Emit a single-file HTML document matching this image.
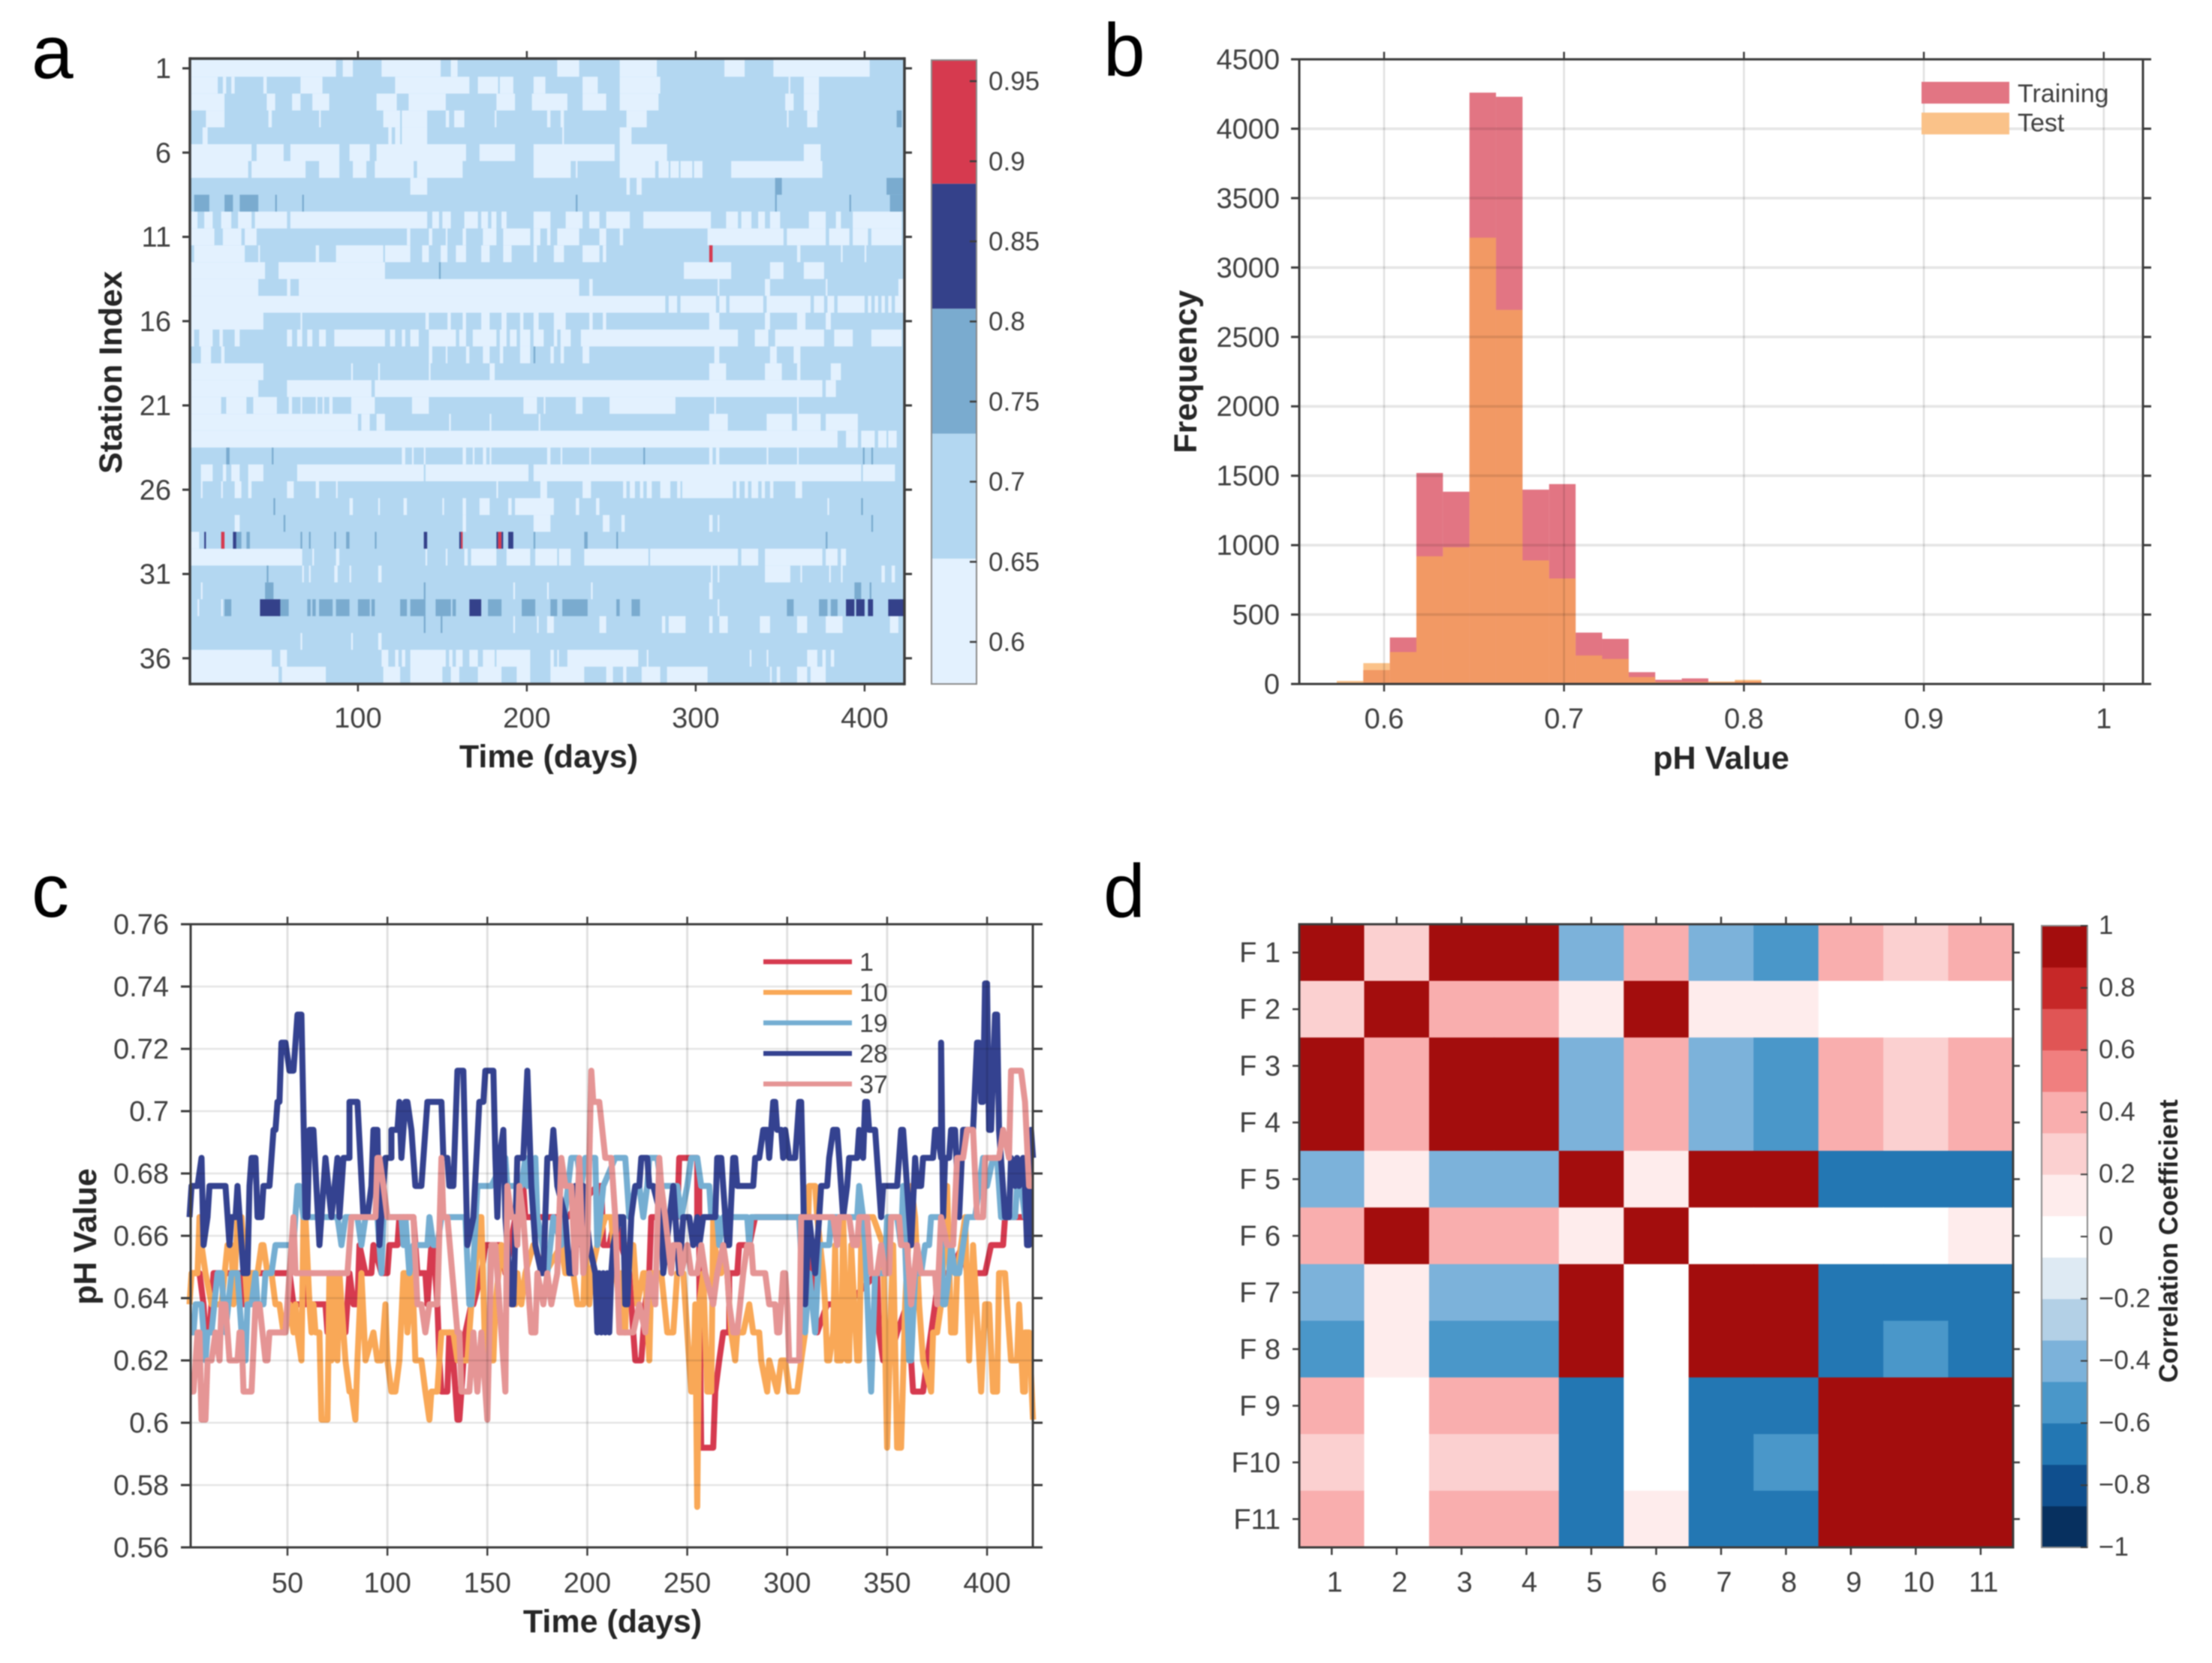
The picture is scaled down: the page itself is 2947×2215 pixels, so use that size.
<!DOCTYPE html>
<html lang="en">
<head>
<meta charset="utf-8">
<title>pH analysis figure</title>
<style>
html,body{margin:0;padding:0;background:#fff;width:2947px;height:2215px;overflow:hidden}
svg{display:block;filter:blur(0.8px);font-family:"Liberation Sans",Arial,sans-serif}
.tick{font-size:38px;fill:#404040}
.cb{font-size:35px;fill:#404040}
.title{font-size:43px;font-weight:bold;fill:#262626}
.letter{font-size:100px;fill:#000}
.leg{font-size:34px;fill:#404040}
</style>
</head>
<body>
<svg id="fig" xmlns="http://www.w3.org/2000/svg" width="2947" height="2215" viewBox="0 0 2947 2215">
<rect width="2947" height="2215" fill="#fff"/>
<text class="letter" x="42" y="104">a</text>
<text class="letter" x="1470" y="101">b</text>
<text class="letter" x="42" y="1221">c</text>
<text class="letter" x="1470" y="1221">d</text>
<g id="pa"></g>
<g id="pb"></g>
<g id="pc"></g>
<g id="pd"></g>
<text class="title" x="731" y="1022" text-anchor="middle">Time (days)</text>
<text class="title" transform="translate(162,496) rotate(-90)" text-anchor="middle">Station Index</text>
<text class="title" x="2293" y="1024" text-anchor="middle">pH Value</text>
<text class="title" transform="translate(1594,495) rotate(-90)" text-anchor="middle">Frequency</text>
<text class="title" x="816" y="2187" text-anchor="middle" transform="translate(0,-13)">Time (days)</text>
<text class="title" transform="translate(128,1647) rotate(-90)" text-anchor="middle">pH Value</text>
<text transform="translate(2901,1653) rotate(-90)" text-anchor="middle" font-size="35" font-weight="bold" fill="#262626">Correlation Coefficient</text>
<text class="leg" x="2688" y="136">Training</text>
<text class="leg" x="2688" y="175">Test</text>
</svg>
<script>
/* ---------- Panel a: run lists per station (days with the lowest pH band) ---------- */
const lowRuns = [
[[1,87],[91,97],[114,149],[155,159],[218,231],[255,277],[317,329],[346,403]],
[[1,17],[20,22],[25,27],[44,46],[66,79],[122,166],[171,183],[184,192],[204,211],[233,242],[255,279],[355,356],[364,373]],
[[1,21],[46,51],[61,66],[73,83],[111,123],[130,152],[182,193],[203,224],[233,247],[255,278],[353,358],[364,373]],
[[10,21],[47,49],[77,78],[115,125],[126,141],[152,154],[157,163],[181,182],[212,214],[220,222],[259,271],[354,355],[366,372]],
[[8,11],[118,120],[122,125],[126,141],[221,222],[255,262]],
[[1,37],[40,56],[60,89],[95,107],[111,164],[172,193],[204,252],[255,283],[364,374]],
[[1,35],[37,69],[77,89],[97,105],[110,133],[135,162],[204,226],[229,230],[255,276],[278,284],[285,290],[291,298],[299,304],[321,375]],
[[131,141],[259,261],[265,268]],
[],
[[1,5],[9,14],[19,25],[29,37],[39,58],[60,141],[144,148],[150,155],[163,171],[173,177],[179,182],[185,188],[204,214],[223,233],[237,243],[247,261],[269,309],[318,325],[327,333],[337,341],[344,350],[367,377],[383,386],[393,422]],
[[1,15],[20,31],[33,40],[129,131],[142,144],[152,153],[162,164],[174,182],[186,202],[204,208],[212,214],[218,231],[243,247],[255,257],[307,352],[354,377],[379,391],[393,402],[404,422]],
[[3,33],[41,42],[75,77],[87,115],[116,131],[138,142],[149,153],[158,164],[173,178],[186,191],[204,206],[216,222],[233,243],[245,247],[360,362],[386,387],[400,401]],
[[1,45],[53,116],[293,321],[344,352],[364,376]],
[[1,41],[58,60],[65,231],[237,239],[313,314],[341,344],[377,378],[420,424]],
[[1,282],[284,289],[291,312],[314,318],[320,340],[342,368],[370,376],[378,382],[384,400],[402,404],[406,408],[410,412],[414,416],[418,424]],
[[1,44],[66,67],[140,142],[153,155],[162,164],[173,178],[185,188],[196,198],[204,207],[216,223],[237,239],[245,247],[308,314],[341,344],[360,365],[377,380]],
[[1,3],[6,14],[18,20],[27,30],[58,61],[64,67],[70,73],[77,81],[86,116],[119,122],[126,128],[131,136],[142,158],[160,164],[168,182],[184,188],[190,194],[196,202],[204,210],[216,218],[220,226],[232,325],[335,343],[347,376],[382,393],[404,422]],
[[7,13],[19,21],[142,144],[152,153],[164,166],[174,178],[184,186],[196,202],[214,216],[220,222],[233,237],[311,314],[344,348],[358,362]],
[[1,44],[96,97],[112,113],[142,143],[178,181],[308,318],[341,351],[360,362],[380,386]],
[[1,41],[58,108],[110,375],[377,383]],
[[1,19],[22,34],[38,52],[59,61],[66,67],[75,76],[79,80],[83,85],[96,110],[132,142],[198,206],[210,211],[229,233],[249,288],[311,312],[360,361]],
[[1,100],[102,107],[111,116],[154,155],[178,179],[207,208],[308,319],[342,357],[360,374],[377,396]],
[[1,384],[389,396],[398,406],[408,413],[414,419]],
[[126,128],[132,133],[139,140],[162,164],[168,169],[174,176],[178,179],[212,214],[220,221],[237,238],[308,310],[312,314],[342,343],[360,361]],
[[7,14],[20,22],[25,30],[35,44],[64,139],[140,201],[204,398],[399,418]],
[[7,8],[19,20],[27,31],[35,37],[58,62],[75,77],[87,88],[182,183],[208,212],[233,238],[257,259],[261,264],[267,269],[271,274],[279,285],[289,291],[292,322],[324,326],[329,331],[333,337],[339,341],[344,346],[359,363]],
[[95,97],[112,113],[127,129],[150,151],[162,164],[172,178],[189,191],[193,216],[229,231],[241,243],[378,379]],
[[27,30],[162,164],[204,214],[245,249],[256,258],[308,310],[313,314]],
[[1,6]],
[[1,67],[73,74],[87,89],[140,141],[152,153],[163,165],[167,182],[188,202],[205,218],[219,226],[234,272],[273,325],[327,337],[341,375],[377,384],[386,389]],
[[67,68],[71,72],[86,88],[95,96],[112,114],[309,310],[313,314],[341,356],[362,363],[379,380],[386,387],[410,412],[416,418]],
[[7,8],[192,193],[212,213],[238,239],[308,310]],
[[5,6],[19,20],[313,314]],
[[192,193],[206,207],[212,216],[243,247],[280,282],[284,294],[308,310],[314,319],[338,344],[360,366],[377,387],[415,420]],
[[66,67],[96,97],[112,114]],
[[1,49],[54,58],[114,118],[122,124],[126,128],[131,152],[154,156],[158,162],[166,171],[174,181],[182,202],[214,216],[218,219],[224,266],[271,272],[332,333],[342,343],[366,372],[375,377],[380,382]],
[[1,53],[55,81],[115,125],[131,150],[155,160],[171,185],[194,202],[214,234],[247,251],[257,259],[268,279],[283,307],[344,345],[348,350],[360,366],[368,377]]
];
/* station, start day, end day, colour-band index */
const highRuns = [
[4,419,422,2],[8,347,351,2],[8,413,424,2],
[9,3,12,2],[9,21,26,2],[9,30,41,2],[9,51,52,2],[9,67,68,2],[9,229,230,2],[9,347,348,2],[9,391,392,2],[9,415,424,2],
[12,308,310,4],[13,148,149,2],[18,204,205,2],
[24,22,24,2],[24,49,50,2],[24,269,270,2],[24,399,400,2],[24,404,405,2],
[27,50,51,2],[27,398,399,2],[28,56,57,2],[28,404,405,2],
[29,9,10,3],[29,19,21,4],[29,26,28,3],[29,28,31,2],[29,34,36,2],[29,66,67,2],[29,71,72,2],[29,86,87,2],[29,93,95,2],[29,110,111,2],[29,139,141,3],[29,160,161,3],[29,161,162,4],[29,182,183,3],[29,183,185,4],[29,185,186,3],[29,189,192,3],[29,204,205,2],[29,234,236,2],[29,253,254,2],[29,377,378,2],
[31,46,47,2],
[32,45,50,2],[32,139,140,2],[32,394,398,2],[32,403,404,2],
[33,21,25,2],[33,53,59,2],[33,70,72,2],[33,73,75,2],[33,77,85,2],[33,87,95,2],[33,100,107,2],[33,108,110,2],[33,125,129,2],[33,131,140,2],[33,146,155,2],[33,156,158,2],[33,177,185,2],[33,197,205,2],[33,214,218,2],[33,221,236,2],[33,253,255,2],[33,262,267,2],[33,354,358,2],[33,373,378,2],[33,380,384,2],
[33,42,54,3],[33,166,173,3],[33,389,394,3],[33,395,400,3],[33,402,405,3],[33,414,424,3],
[34,139,140,2],[34,149,150,2]
];
const stationLabels = ['1','6','11','16','21','26','31','36'];
const stationTicks = [1,6,11,16,21,26,31,36];
const heatDayTicks = [100,200,300,400];
const heatBandColors = ['#e3f1fe','#b3d7f1','#7aabcf','#34418a','#d63a4f'];
const heatBandEdges = [0.574,0.652,0.730,0.808,0.886,0.963];
const heatCbarTicks = [0.95,0.9,0.85,0.8,0.75,0.7,0.65,0.6];

/* ---------- Panel b: histogram ---------- */
const binStart = 0.5737;
const binWidth = 0.01475;
const trainingCounts = [0,100,335,1520,1385,4260,4230,1400,1440,370,325,85,30,40,12,20,8,5];
const testCounts = [22,150,230,920,985,3215,2695,890,760,205,180,50,15,15,18,30,5,3];
const histXTicks = [0.6,0.7,0.8,0.9,1];
const histYTicks = [0,500,1000,1500,2000,2500,3000,3500,4000,4500];

/* ---------- Panel c: [day, pH] readings for each station ---------- */
const series1 = [[1,.648],[6,.648],[8,.638],[9,.629],[11,.629],[13,.648],[26,.648],[28,.638],[29,.648],[51,.648],[53,.638],[59,.638],[60,.648],[61,.638],[69,.638],[70,.629],[79,.629],[81,.648],[83,.638],[85,.638],[86,.657],[89,.648],[92,.648],[93,.657],[97,.648],[100,.648],[101,.657],[105,.657],[106,.666],[113,.666],[115,.648],[119,.648],[120,.638],[122,.657],[123,.657],[125,.638],[126,.620],[127,.610],[130,.610],[131,.629],[132,.620],[133,.620],[135,.601],[136,.601],[137,.610],[139,.629],[142,.638],[143,.638],[147,.648],[149,.657],[157,.657],[159,.648],[164,.666],[168,.676],[169,.666],[190,.666],[205,.676],[207,.676],[208,.657],[211,.657],[214,.666],[217,.657],[221,.648],[223,.629],[224,.620],[227,.620],[229,.638],[231,.648],[232,.666],[245,.666],[246,.685],[255,.685],[255,.666],[256,.676],[256,.648],[257,.592],[263,.592],[264,.610],[266,.620],[268,.629],[271,.629],[271,.648],[275,.648],[276,.657],[281,.657],[284,.666],[310,.666],[315,.629],[320,.638],[330,.638],[345,.648],[346,.629],[348,.620],[351,.620],[355,.629],[360,.638],[362,.620],[363,.610],[368,.610],[370,.620],[374,.638],[376,.648],[381,.648],[388,.657],[390,.648],[399,.648],[402,.657],[408,.657],[409,.666],[423,.666]];
const series10 = [[1,.638],[2,.648],[5,.648],[6,.666],[7,.657],[9,.648],[12,.638],[17,.638],[20,.657],[22,.657],[23,.638],[25,.666],[27,.666],[30,.638],[31,.648],[35,.648],[37,.657],[38,.657],[40,.648],[42,.648],[44,.638],[46,.638],[48,.629],[49,.629],[51,.638],[53,.629],[54,.638],[55,.629],[57,.620],[58,.666],[59,.666],[61,.638],[62,.629],[63,.638],[64,.629],[66,.629],[67,.601],[70,.601],[71,.648],[72,.620],[73,.648],[75,.620],[76,.648],[79,.620],[81,.610],[82,.610],[84,.601],[85,.620],[87,.648],[89,.620],[93,.629],[95,.620],[97,.620],[99,.638],[100,.620],[102,.610],[104,.610],[106,.620],[108,.648],[109,.648],[110,.629],[112,.648],[113,.638],[114,.620],[117,.620],[119,.610],[121,.601],[122,.610],[125,.610],[126,.620],[127,.629],[133,.629],[135,.620],[140,.620],[142,.638],[144,.648],[146,.666],[147,.666],[149,.620],[153,.620],[154,.638],[157,.657],[162,.638],[164,.638],[165,.648],[167,.638],[169,.648],[173,.657],[179,.648],[187,.657],[189,.648],[193,.648],[195,.638],[198,.638],[199,.657],[201,.638],[202,.648],[205,.657],[209,.666],[212,.666],[213,.657],[216,.638],[217,.648],[219,.629],[220,.657],[223,.657],[225,.638],[228,.648],[229,.648],[231,.620],[232,.648],[237,.648],[240,.629],[243,.629],[245,.648],[248,.648],[250,.629],[252,.610],[253,.610],[254,.638],[255,.573],[256,.638],[258,.648],[260,.610],[262,.610],[263,.666],[265,.648],[267,.648],[268,.657],[270,.648],[272,.629],[274,.620],[275,.629],[278,.629],[281,.638],[283,.629],[286,.629],[287,.620],[290,.610],[291,.620],[295,.610],[297,.620],[299,.620],[301,.610],[305,.610],[307,.620],[309,.629],[311,.676],[314,.676],[315,.666],[318,.648],[319,.638],[320,.620],[321,.620],[323,.629],[324,.657],[325,.620],[327,.620],[328,.666],[330,.620],[331,.620],[332,.657],[335,.620],[336,.620],[337,.657],[339,.666],[343,.666],[348,.657],[350,.592],[352,.638],[353,.657],[355,.592],[357,.592],[359,.638],[362,.676],[364,.666],[366,.638],[368,.620],[372,.610],[373,.629],[375,.629],[377,.638],[380,.676],[382,.629],[384,.629],[385,.648],[389,.666],[391,.620],[393,.657],[397,.610],[399,.638],[401,.638],[403,.610],[405,.610],[406,.648],[409,.648],[410,.638],[412,.620],[415,.620],[416,.638],[418,.610],[419,.610],[419,.629],[421,.629],[423,.601]];
const series19 = [[1,.629],[3,.629],[4,.638],[7,.638],[9,.620],[10,.629],[12,.629],[15,.648],[17,.648],[19,.629],[22,.648],[25,.648],[27,.629],[29,.620],[30,.638],[32,.638],[34,.648],[35,.638],[38,.638],[39,.648],[42,.648],[44,.657],[53,.657],[55,.676],[56,.676],[58,.666],[75,.666],[77,.657],[79,.666],[85,.666],[87,.657],[89,.666],[95,.666],[97,.648],[98,.666],[107,.666],[108,.657],[109,.666],[111,.648],[113,.657],[120,.657],[121,.666],[123,.657],[125,.657],[127,.666],[139,.666],[141,.638],[142,.638],[145,.676],[152,.676],[159,.685],[160,.676],[167,.676],[169,.685],[170,.676],[174,.685],[175,.666],[180,.648],[183,.666],[187,.657],[192,.685],[195,.685],[197,.676],[199,.685],[204,.685],[205,.657],[208,.676],[214,.685],[219,.685],[221,.666],[224,.676],[226,.676],[228,.666],[230,.676],[231,.685],[235,.685],[237,.676],[245,.676],[247,.666],[250,.676],[252,.685],[255,.685],[257,.676],[261,.676],[262,.666],[265,.666],[266,.657],[268,.666],[280,.666],[281,.657],[282,.666],[306,.666],[309,.629],[311,.648],[314,.629],[316,.657],[321,.657],[322,.666],[335,.666],[336,.676],[338,.666],[339,.657],[342,.610],[344,.648],[349,.648],[350,.666],[355,.666],[357,.657],[358,.676],[361,.620],[362,.620],[364,.648],[367,.648],[369,.657],[371,.657],[372,.666],[377,.666],[378,.638],[379,.638],[381,.648],[382,.657],[384,.648],[386,.648],[388,.657],[390,.666],[394,.666],[398,.685],[400,.676],[403,.685],[405,.685],[407,.666],[414,.666],[415,.676],[417,.676],[419,.666],[423,.666]];
const series28 = [[1,.666],[2,.676],[5,.676],[7,.685],[8,.657],[10,.666],[11,.676],[19,.676],[21,.657],[22,.666],[24,.666],[25,.676],[28,.648],[30,.648],[31,.676],[32,.685],[34,.685],[35,.666],[37,.666],[38,.676],[41,.676],[42,.685],[43,.694],[44,.694],[45,.703],[46,.703],[47,.722],[49,.722],[51,.713],[53,.713],[54,.722],[55,.731],[57,.731],[59,.666],[60,.666],[61,.694],[63,.694],[66,.657],[69,.685],[72,.666],[75,.685],[76,.666],[78,.685],[81,.685],[81,.703],[85,.703],[88,.666],[90,.666],[92,.676],[93,.694],[95,.694],[96,.657],[98,.676],[99,.685],[102,.685],[102,.694],[105,.694],[106,.703],[107,.685],[109,.703],[110,.703],[112,.694],[114,.676],[117,.676],[118,.685],[120,.703],[127,.703],[128,.685],[130,.685],[131,.676],[133,.676],[135,.713],[138,.713],[140,.657],[143,.666],[146,.703],[148,.703],[149,.713],[153,.713],[154,.685],[155,.666],[156,.685],[158,.694],[159,.666],[162,.638],[163,.638],[165,.685],[168,.685],[170,.713],[172,.676],[174,.657],[177,.648],[178,.648],[180,.685],[182,.685],[183,.694],[185,.676],[189,.666],[191,.648],[193,.648],[194,.676],[195,.657],[198,.676],[201,.657],[204,.648],[205,.629],[206,.648],[207,.629],[208,.648],[209,.629],[210,.648],[211,.629],[212,.648],[213,.657],[216,.666],[218,.666],[219,.638],[220,.638],[222,.666],[224,.676],[226,.676],[227,.685],[230,.685],[231,.676],[233,.676],[237,.666],[238,.648],[243,.676],[245,.657],[246,.648],[248,.666],[251,.666],[253,.657],[255,.666],[256,.657],[258,.666],[264,.666],[265,.685],[267,.685],[270,.657],[271,.657],[273,.685],[274,.685],[275,.676],[283,.676],[284,.685],[286,.685],[288,.694],[290,.694],[291,.685],[293,.703],[294,.703],[295,.694],[297,.694],[298,.685],[299,.694],[301,.685],[304,.685],[306,.703],[307,.703],[308,.676],[309,.638],[311,.666],[314,.648],[316,.666],[317,.676],[320,.676],[321,.685],[323,.694],[325,.694],[326,.685],[328,.666],[330,.676],[331,.685],[335,.685],[336,.694],[338,.685],[339,.703],[340,.703],[341,.694],[344,.694],[347,.666],[348,.676],[355,.676],[357,.694],[358,.694],[362,.657],[364,.685],[365,.676],[367,.676],[368,.685],[373,.685],[374,.694],[375,.694],[377,.685],[377,.722],[378,.666],[379,.685],[381,.685],[382,.694],[384,.694],[386,.666],[388,.694],[393,.694],[395,.722],[396,.722],[397,.703],[398,.703],[399,.741],[400,.741],[401,.694],[402,.694],[404,.731],[405,.731],[406,.694],[409,.666],[411,.666],[412,.685],[414,.676],[415,.685],[416,.676],[418,.685],[419,.676],[420,.657],[421,.657],[422,.694],[423,.685]];
const series37 = [[1,.610],[3,.610],[5,.629],[6,.629],[7,.601],[9,.601],[10,.620],[12,.620],[14,.629],[16,.620],[17,.638],[19,.638],[21,.620],[25,.620],[26,.629],[27,.629],[28,.610],[32,.610],[34,.638],[36,.638],[39,.620],[40,.620],[41,.629],[49,.629],[51,.648],[53,.666],[54,.648],[80,.648],[81,.657],[82,.666],[94,.666],[95,.685],[96,.685],[98,.676],[100,.666],[113,.666],[115,.638],[117,.638],[119,.629],[121,.638],[125,.638],[127,.685],[128,.666],[130,.666],[135,.629],[136,.629],[137,.610],[141,.610],[143,.629],[145,.610],[147,.629],[150,.601],[152,.657],[154,.657],[159,.610],[160,.676],[162,.666],[164,.666],[165,.657],[166,.676],[168,.666],[172,.629],[174,.629],[175,.648],[178,.638],[180,.648],[182,.638],[185,.648],[187,.685],[189,.676],[192,.676],[194,.648],[196,.685],[198,.648],[200,.657],[202,.713],[203,.703],[206,.703],[209,.685],[212,.685],[214,.666],[216,.629],[223,.629],[226,.638],[229,.629],[231,.648],[234,.638],[236,.685],[237,.676],[239,.666],[242,.648],[243,.657],[246,.657],[247,.648],[250,.657],[252,.648],[255,.648],[257,.657],[259,.648],[263,.638],[265,.648],[268,.657],[270,.648],[271,.638],[273,.629],[275,.629],[278,.648],[280,.657],[282,.657],[283,.648],[289,.648],[291,.638],[294,.638],[295,.629],[296,.629],[298,.648],[299,.648],[300,.638],[301,.620],[306,.620],[307,.666],[323,.666],[325,.657],[326,.666],[331,.666],[333,.657],[335,.657],[336,.666],[340,.666],[342,.648],[345,.648],[347,.657],[349,.648],[351,.648],[352,.666],[356,.666],[357,.657],[360,.657],[362,.638],[365,.657],[367,.648],[374,.648],[375,.638],[377,.666],[380,.657],[383,.657],[385,.685],[388,.685],[390,.694],[393,.694],[395,.666],[398,.666],[399,.685],[406,.685],[408,.694],[411,.685],[412,.713],[417,.713],[419,.703],[421,.676],[423,.676]];
const seriesNames = ['1','10','19','28','37'];
const seriesColors = ['#d63a4f','#f9a857','#75aed2','#344290','#e59595'];
const lineData = [series1,series10,series19,series28,series37];
const lineXTicks = [50,100,150,200,250,300,350,400];
const lineYTicks = [0.76,0.74,0.72,0.7,0.68,0.66,0.64,0.62,0.6,0.58,0.56];
const lineYLabels = ['0.76','0.74','0.72','0.7','0.68','0.66','0.64','0.62','0.6','0.58','0.56'];

/* ---------- Panel d: correlation matrix ---------- */
const featureLabels = ['F 1','F 2','F 3','F 4','F 5','F 6','F 7','F 8','F 9','F10','F11'];
const columnLabels = ['1','2','3','4','5','6','7','8','9','10','11'];
const corrF1 = [1,.27,1,1,-.4,.4,-.4,-.52,.4,.27,.4];
const corrF2 = [.27,1,.4,.4,.12,1,.12,.12,0,0,0];
const corrF3 = [1,.4,1,1,-.4,.4,-.4,-.52,.4,.27,.4];
const corrF4 = [1,.4,1,1,-.4,.4,-.4,-.52,.4,.27,.4];
const corrF5 = [-.4,.12,-.4,-.4,1,.12,1,1,-.67,-.67,-.67];
const corrF6 = [.4,1,.4,.4,.12,1,0,0,0,0,.12];
const corrF7 = [-.4,.12,-.4,-.4,1,0,1,1,-.67,-.67,-.67];
const corrF8 = [-.52,.12,-.52,-.52,1,0,1,1,-.67,-.52,-.67];
const corrF9 = [.4,0,.4,.4,-.67,0,-.67,-.67,1,1,1];
const corrF10 = [.27,0,.27,.27,-.67,0,-.67,-.52,1,1,1];
const corrF11 = [.4,0,.4,.4,-.67,.12,-.67,-.67,1,1,1];
const corrMatrix = [corrF1,corrF2,corrF3,corrF4,corrF5,corrF6,corrF7,corrF8,corrF9,corrF10,corrF11];
const corrColors = ['#07305f','#0f4f8e','#2377b3','#4a97c9','#7cb2da','#b3d0e6','#deeaf3','#ffffff','#feecec','#fbd0d0','#f9aeae','#f07f7f','#e05555','#c62828','#a30d0d'];
const corrCbarTicks = [1,0.8,0.6,0.4,0.2,0,-0.2,-0.4,-0.6,-0.8,-1];
const corrCbarLabels = ['1','0.8','0.6','0.4','0.2','0','\u22120.2','\u22120.4','\u22120.6','\u22120.8','\u22121'];

const NS = 'http://www.w3.org/2000/svg';
const AXIS = '#3c3c3c';
function mk(tag, parent, geo){
  const el = document.createElementNS(NS, tag);
  for (const k in geo) el.setAttribute(k, geo[k]);
  parent.appendChild(el);
  return el;
}
function line(parent, x1, y1, x2, y2, stroke, w, name){
  const el = mk('line', parent, {x1:x1, y1:y1, x2:x2, y2:y2, stroke:stroke, 'stroke-width':w});
  
  
  return el;
}
function label(parent, x, y, str, anchor, cls, name){
  const el = mk('text', parent, {x:x, y:y, 'text-anchor':anchor, class:cls});
  el.textContent = str;
  
  
  return el;
}
function box(parent, x, y, w, h, fill, name){
  const el = mk('rect', parent, {x:x, y:y, width:w, height:h, fill:fill});
  
  
  return el;
}
function frame(parent, L, T, R, B, w){
  line(parent, L, T, R, T, AXIS, w, 'axis-top');
  line(parent, L, B, R, B, AXIS, w, 'axis-bottom');
  line(parent, L, T-w/2, L, B+w/2, AXIS, w, 'axis-left');
  line(parent, R, T-w/2, R, B+w/2, AXIS, w, 'axis-right');
}

/* Panel a */
(function(){
  const g = document.getElementById('pa');
  const L = 253, R = 1205, T = 79, B = 910;
  const dayX = d => L + (Math.min(Math.max(d, 0.5), 423.6) - 0.5) * 2.25;
  const rowH = 22.45;
  const rowY = s => 91 + (s - 1) * rowH;
  box(g, L, T, R - L, B - T, heatBandColors[1], 'heatmap-base');
  lowRuns.forEach((runs, i) => {
    runs.forEach(r => {
      const x0 = dayX(r[0] <= 1 ? 0.5 : r[0]);
      box(g, x0, rowY(i + 1) - rowH / 2, dayX(r[1]) - x0, rowH, heatBandColors[0], 'heatmap-low-run');
    });
  });
  highRuns.forEach(r => {
    const x0 = dayX(r[1]);
    box(g, x0, rowY(r[0]) - rowH / 2, dayX(r[2]) - x0, rowH, heatBandColors[r[3]], 'heatmap-high-run');
  });
  frame(g, L, 78, R, 911, 3.5);
  heatDayTicks.forEach(d => {
    line(g, dayX(d), 68, dayX(d), 78, AXIS, 2.5, 'x-tick-top');
    line(g, dayX(d), 911, dayX(d), 921, AXIS, 2.5, 'x-tick-bottom');
    label(g, dayX(d), 969, String(d), 'middle', 'tick', 'x-tick-label');
  });
  stationTicks.forEach((s, i) => {
    line(g, L - 10, rowY(s), L, rowY(s), AXIS, 3, 'y-tick-left');
    line(g, R, rowY(s), R + 10, rowY(s), AXIS, 3, 'y-tick-right');
    label(g, 228, rowY(s) + 13, stationLabels[i], 'end', 'tick', 'y-tick-label');
  });
  const cbY = v => 855 - (v - 0.6) * 2134;
  heatBandColors.forEach((c, i) => {
    const top = cbY(heatBandEdges[i + 1]);
    box(g, 1241, top, 60, cbY(heatBandEdges[i]) - top, c, 'colorbar-band');
  });
  const outline = mk('rect', g, {x:1241, y:80, width:60, height:831, fill:'none', stroke:'#8a8a8a', 'stroke-width':2});
  
  
  heatCbarTicks.forEach(v => {
    line(g, 1292, cbY(v), 1301, cbY(v), AXIS, 2.5, 'colorbar-tick');
    label(g, 1317, cbY(v) + 12, String(v), 'start', 'cb', 'colorbar-tick-label');
  });
})();

/* Panel b */
(function(){
  const g = document.getElementById('pb');
  const L = 1731, R = 2855, T = 79, B = 911;
  const valX = v => 1844 + (v - 0.6) * 2397;
  const cntY = f => 911 - f * 0.18489;
  trainingCounts.forEach((c, i) => {
    const x0 = valX(binStart + i * binWidth), x1 = valX(binStart + (i + 1) * binWidth);
    const bar = box(g, x0, cntY(c), x1 - x0, B - cntY(c), '#d63a4f', 'training-bar');
    bar.setAttribute('fill-opacity', '0.7');
  });
  testCounts.forEach((c, i) => {
    const x0 = valX(binStart + i * binWidth), x1 = valX(binStart + (i + 1) * binWidth);
    const bar = box(g, x0, cntY(c), x1 - x0, B - cntY(c), '#f9a857', 'test-bar');
    bar.setAttribute('fill-opacity', '0.7');
  });
  histXTicks.forEach(v => line(g, valX(v), T, valX(v), B, 'rgba(0,0,0,0.12)', 2.5, 'grid-vertical'));
  histYTicks.forEach(f => { if (f) line(g, L, cntY(f), R, cntY(f), 'rgba(0,0,0,0.1)', 3.5, 'grid-horizontal'); });
  frame(g, L, T, R, B, 3);
  histXTicks.forEach(v => {
    line(g, valX(v), T - 10, valX(v), T, AXIS, 2.5, 'x-tick-top');
    line(g, valX(v), B, valX(v), B + 10, AXIS, 2.5, 'x-tick-bottom');
    label(g, valX(v), 970, String(v), 'middle', 'tick', 'x-tick-label');
  });
  histYTicks.forEach(f => {
    line(g, L - 11, cntY(f), L, cntY(f), AXIS, 3, 'y-tick-left');
    line(g, R, cntY(f), R + 11, cntY(f), AXIS, 3, 'y-tick-right');
    label(g, 1705, cntY(f) + 13, String(f), 'end', 'tick', 'y-tick-label');
  });
  box(g, 2560, 109, 117, 29, '#e27583', 'legend-training-swatch');
  box(g, 2560, 150, 117, 29, '#fac289', 'legend-test-swatch');
})();

/* Panel c */
(function(){
  const g = document.getElementById('pc');
  const L = 254, R = 1376, T = 1231, B = 2061;
  const dayX = d => 383 + (d - 50) * 2.663;
  const phY = v => T + (0.76 - v) * 4150;
  lineData.forEach((s, i) => {
    const d = s.map((p, j) => (j ? 'L' : 'M') + dayX(p[0]).toFixed(1) + ' ' + phY(p[1]).toFixed(1)).join('');
    const path = mk('path', g, {d:d, fill:'none', stroke:seriesColors[i], 'stroke-width':8, 'stroke-linejoin':'round'});
    
    
  });
  lineXTicks.forEach(d => line(g, dayX(d), T, dayX(d), B, 'rgba(0,0,0,0.12)', 3, 'grid-vertical'));
  lineYTicks.forEach(v => line(g, L, phY(v), R, phY(v), 'rgba(0,0,0,0.1)', 2.5, 'grid-horizontal'));
  frame(g, L, T, R, B, 3);
  lineXTicks.forEach(d => {
    line(g, dayX(d), T - 10, dayX(d), T, AXIS, 2.5, 'x-tick-top');
    line(g, dayX(d), B, dayX(d), B + 11, AXIS, 2.5, 'x-tick-bottom');
    label(g, dayX(d), 2134 - 13, String(d), 'middle', 'tick', 'x-tick-label');
  });
  lineYTicks.forEach((v, i) => {
    line(g, L - 13, phY(v), L, phY(v), AXIS, 3, 'y-tick-left');
    line(g, R, phY(v), R + 13, phY(v), AXIS, 3, 'y-tick-right');
    label(g, 225, phY(v) + 13, lineYLabels[i], 'end', 'tick', 'y-tick-label');
  });
  seriesNames.forEach((n, i) => {
    const y = 1281 + i * 40.7;
    line(g, 1017, y, 1135, y, seriesColors[i], 6.5, 'legend-line-' + n);
    label(g, 1145, y + 12, n, 'start', 'leg', 'legend-label-' + n);
  });
})();

/* Panel d */
(function(){
  const g = document.getElementById('pd');
  const L = 1731, R = 2682, T = 1231, B = 2061;
  const cw = (R - L) / 11, rh = (B - T) / 11;
  const colX = c => L + c * cw;
  const rowY = r => T + r * rh;
  const colorOf = v => corrColors[Math.min(14, Math.floor((v + 1) / 2 * 15))];
  corrMatrix.forEach((row, r) => {
    row.forEach((v, c) => {
      box(g, colX(c), rowY(r), cw + 0.5, rh + 0.5, colorOf(v), 'corr-cell');
    });
  });
  frame(g, L, T, R, B, 3);
  columnLabels.forEach((t, c) => {
    const x = colX(c) + cw / 2;
    line(g, x, T - 10, x, T, AXIS, 2.5, 'x-tick-top');
    line(g, x, B, x, B + 10, AXIS, 2.5, 'x-tick-bottom');
    label(g, x + 4, 2120, t, 'middle', 'tick', 'x-tick-label');
  });
  featureLabels.forEach((t, r) => {
    const y = rowY(r) + rh / 2;
    line(g, L - 9, y, L, y, AXIS, 2.5, 'y-tick-left');
    line(g, R, y, R + 9, y, AXIS, 2.5, 'y-tick-right');
    label(g, 1706, y + 13, t, 'end', 'tick', 'y-tick-label');
  });
  const cbY = v => 2061 - (v + 1) * 414;
  corrColors.forEach((c, i) => {
    const top = 2061 - (i + 1) * 828 / 15;
    box(g, 2720, top, 61, 828 / 15 + 0.5, c, 'colorbar-band');
  });
  const outline = mk('rect', g, {x:2720, y:1233, width:61, height:828, fill:'none', stroke:'#8a8a8a', 'stroke-width':2});
  
  
  corrCbarTicks.forEach((v, i) => {
    line(g, 2772, cbY(v), 2781, cbY(v), AXIS, 2, 'colorbar-tick');
    label(g, 2796, cbY(v) + 11, corrCbarLabels[i], 'start', 'cb', 'colorbar-tick-label');
  });
})();
</script>
</body>
</html>
